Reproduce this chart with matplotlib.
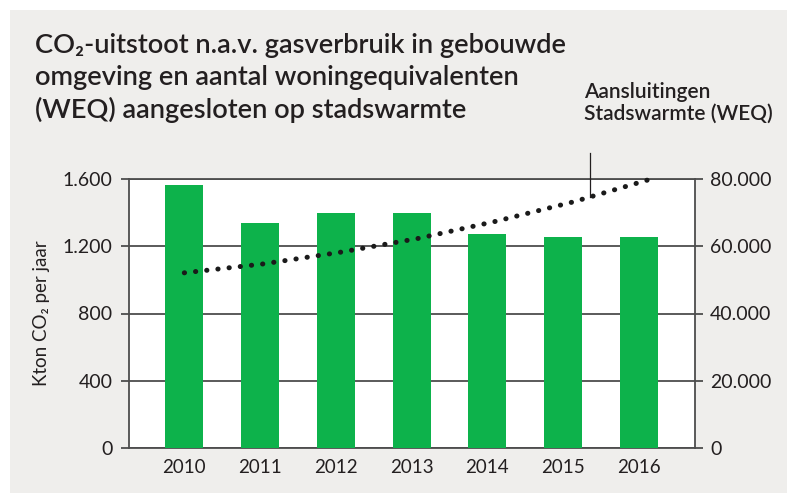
import matplotlib.pyplot as plt
from matplotlib.patches import Rectangle
from matplotlib.lines import Line2D
from matplotlib.ticker import FuncFormatter
import numpy as np

# data
years = ['2010', '2011', '2012', '2013', '2014', '2015', '2016']
co2_kton = [1565, 1340, 1400, 1400, 1275, 1257, 1257]
weq_aansluitingen = [52100, 54700, 58200, 62300, 67400, 73200, 80000]

title_lines = ['CO\u2082-uitstoot n.a.v. gasverbruik in gebouwde',
               'omgeving en aantal woningequivalenten',
               '(WEQ) aangesloten op stadswarmte']
ylabel_left = 'Kton CO\u2082 per jaar'
label_line = 'Aansluitingen\nStadswarmte (WEQ)'

# stijl
plt.rcParams['font.family'] = ['Lato', 'DejaVu Sans']
green = '#0db24b'
bg = '#efeeec'
txt = '#231f20'
grid_c = '#4d4d4d'

W, H = 787, 493
fig = plt.figure(figsize=(W / 100, H / 100), dpi=100)
fig.patch.set_facecolor('white')
fig.add_artist(Rectangle((10 / W, 0), 1, 1 - 10 / H, transform=fig.transFigure,
                         facecolor=bg, edgecolor='none', zorder=0))

pos = [129 / W, 1 - 448 / H, (695 - 129) / W, (448 - 179) / H]
ax = fig.add_axes(pos)
ax.set_facecolor('white')

x = np.arange(len(years))
ax.bar(x, co2_kton, width=0.5, color=green, zorder=3)
ax.set_xlim(-0.73, 6.74)
ax.set_ylim(0, 1600)
ax.set_yticks([0, 400, 800, 1200, 1600])
ax.yaxis.set_major_formatter(FuncFormatter(lambda v, p: f'{int(v):,}'.replace(',', '.')))
ax.set_xticks(x)
ax.set_xticklabels(years)
ax.grid(axis='y', color=grid_c, linewidth=1.3, zorder=1)
ax.set_axisbelow(True)
for s in ax.spines.values():
    s.set_color(grid_c)
    s.set_linewidth(1.3)
ax.tick_params(axis='y', length=6, width=1.3, color=grid_c, pad=6,
               labelsize=14, labelcolor=txt)
ax.tick_params(axis='x', length=0, pad=8, labelsize=13.5, labelcolor=txt)

# lijn op eigen as (rechter schaal)
line_stretch = 1.027
ax2 = fig.add_axes(pos, frameon=False)
ax2.patch.set_alpha(0)
ax2.plot(x, weq_aansluitingen, color='#1a1a1a', linewidth=3.6,
         linestyle=(0, (0.05, 2.2)), dash_capstyle='round', zorder=5,
         clip_on=False)
ax2.set_xlim(-0.73 / line_stretch, 6.74 / line_stretch)
ax2.set_ylim(0, 80000)
ax2.set_xticks([])
ax2.yaxis.tick_right()
ax2.set_yticks([0, 20000, 40000, 60000, 80000])
ax2.yaxis.set_major_formatter(FuncFormatter(lambda v, p: f'{int(v):,}'.replace(',', '.')))
ax2.tick_params(axis='y', length=6, width=1.3, color=grid_c, pad=5,
                labelsize=14, labelcolor=txt)

# titel
for i, t in enumerate(title_lines):
    fig.text(35 / W, 1 - (53 + i * 32.5) / H, t, fontsize=19.6, fontweight='semibold',
             color=txt, va='baseline', ha='left')

fig.text(42 / W, 1 - 313 / H, ylabel_left, rotation=90, fontsize=13.5,
         color=txt, va='center', ha='center')

fig.text(584 / W, 1 - 120 / H, label_line, fontsize=15, fontweight='semibold',
         color=txt, va='baseline', ha='left', linespacing=1.15)
fig.add_artist(Line2D([590 / W, 590 / W], [1 - 153 / H, 1 - 197 / H],
                      transform=fig.transFigure, color=txt, linewidth=0.9))

fig.savefig('out.png', dpi=100, facecolor=fig.get_facecolor())
